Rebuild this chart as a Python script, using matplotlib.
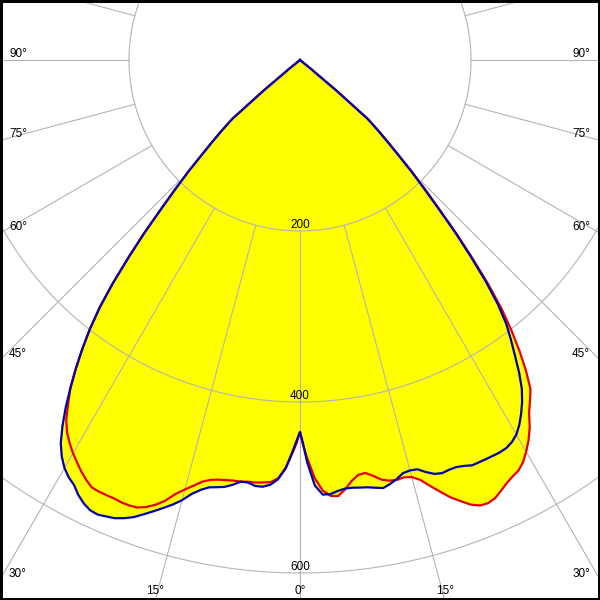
import numpy as np
import matplotlib
matplotlib.use("Agg")
import matplotlib.pyplot as plt

plt.rcParams['font.family'] = ['Liberation Sans', 'DejaVu Sans']

# gamma angles (deg) and luminous intensity (cd)
gamma = [0, 0.5, 1, 2, 3, 4, 5, 6, 7, 8, 9, 10, 11, 12, 13, 14, 15, 16, 17, 18,
         19, 20, 21, 22, 23, 24, 25, 26, 27, 28, 29, 30, 31, 32, 33, 34, 35, 36,
         37, 38, 39, 40, 41, 42, 43, 44, 45, 46, 47, 48, 49, 50, 51, 52, 90]

# C0 - C180 plane (red)
red_c180 = [435, 448, 458, 477, 490, 495, 496, 497, 497, 498, 498, 499, 500, 502, 506, 513,
            520, 528, 539, 547, 553, 557, 558, 558, 557, 557, 557, 556, 551, 545, 538, 531,
            523, 514, 502, 485, 468, 446, 423, 399, 372, 340, 305, 272, 238, 210, 185, 160,
            140, 122, 105, 55, 15, 0, 0]
red_c0 = [435, 452, 465, 489, 504, 511, 512, 505, 496, 490, 489, 494, 500, 503, 504, 503,
          505, 511, 521, 531, 541, 549, 557, 562, 563, 561, 556, 551, 547, 544, 538, 529,
          519, 507, 492, 481, 470, 450, 427, 402, 375, 343, 308, 274, 240, 211, 186, 161,
          141, 123, 106, 55, 15, 0, 0]

# C90 - C270 plane (blue)
blue_c270 = [435, 445, 456, 478, 491, 498, 501, 501, 498, 498, 503, 507, 509, 511, 516, 523,
             533, 541, 548, 555, 562, 569, 574, 578, 580, 582, 581, 577, 571, 563, 558, 551,
             541, 528, 510, 490, 468, 446, 423, 399, 372, 340, 305, 272, 238, 210, 185, 160,
             140, 122, 105, 55, 15, 0, 0]
blue_c90 = [435, 450, 470, 498, 509, 509, 506, 504, 504, 505, 506, 508, 510, 507, 503, 498,
            497, 498, 504, 509, 511, 510, 510, 512, 515, 515, 515, 515, 515, 514, 511, 506,
            498, 488, 477, 464, 447, 428, 410, 392, 368, 338, 304, 271, 237, 209, 184, 159,
            139, 121, 104, 55, 15, 0, 0]

rings = [200, 400, 600]
spoke_step = 15
side_labels = [30, 45, 60, 75, 90]
bottom_labels = [0, 15]

# layout (pixels)
W = 600
px_per_cd = 0.855
cx, cy = 300, 60          # pole position, from top-left
rmax = 760

fig = plt.figure(figsize=(6, 6), dpi=100)
R = rmax * px_per_cd
ax = fig.add_axes([(cx - R) / W, 1 - (cy + R) / W, 2 * R / W, 2 * R / W], projection='polar')
ax.set_theta_zero_location('S')
ax.set_theta_direction(1)
ax.set_ylim(0, rmax)
ax.grid(False)
ax.set_xticks([])
ax.set_yticks([])
ax.spines['polar'].set_visible(False)


def plane(left, right):
    g = np.radians(gamma)
    th = np.concatenate([-g[::-1], g[1:]])
    r = np.concatenate([np.array(left)[::-1], np.array(right)[1:]])
    return th, r


th_red, r_red = plane(red_c180, red_c0)
th_blue, r_blue = plane(blue_c270, blue_c90)

ax.fill(th_red, r_red, color='#ffff00', lw=0, zorder=1)
ax.fill(th_blue, r_blue, color='#ffff00', lw=0, zorder=1)

# grid
gc = '#b4b4b4'
circ = np.linspace(0, 2 * np.pi, 721)
for rv in rings:
    ax.plot(circ, np.full_like(circ, rv), color=gc, lw=0.8, zorder=2)
    ax.annotate(str(rv), xy=(0, rv), xytext=(0, 3), textcoords='offset pixels',
                ha='center', va='baseline', fontsize=8.5, zorder=5)
for a in range(0, 360, spoke_step):
    ax.plot([np.radians(a)] * 2, [rings[0], rmax], color=gc, lw=0.8, zorder=2)

ax.plot(th_red, r_red, color='#e60000', lw=1.6, zorder=3)
ax.plot(th_blue, r_blue, color='#0000b0', lw=1.6, zorder=4)

# angle labels at the frame edge
for a in side_labels:
    rr = cx / np.sin(np.radians(a)) / px_per_cd
    ax.annotate(f'{a}°', xy=(-np.radians(a), rr), xytext=(9, 3), textcoords='offset pixels',
                ha='left', va='baseline', fontsize=8.5, annotation_clip=False)
    ax.annotate(f'{a}°', xy=(np.radians(a), rr), xytext=(-10, 3), textcoords='offset pixels',
                ha='right', va='baseline', fontsize=8.5, annotation_clip=False)
for a in bottom_labels:
    rr = (W - cy) / np.cos(np.radians(a)) / px_per_cd
    for s in ([1] if a == 0 else [-1, 1]):
        ax.annotate(f'{a}°', xy=(s * np.radians(a), rr), xytext=(0, 6), textcoords='offset pixels',
                    ha='center', va='baseline', fontsize=8.5, annotation_clip=False)

fig.add_artist(plt.Rectangle((0, 0), 1, 1, transform=fig.transFigure, fill=False,
                             ec='black', lw=3.6))

fig.savefig('out.png', dpi=100)
